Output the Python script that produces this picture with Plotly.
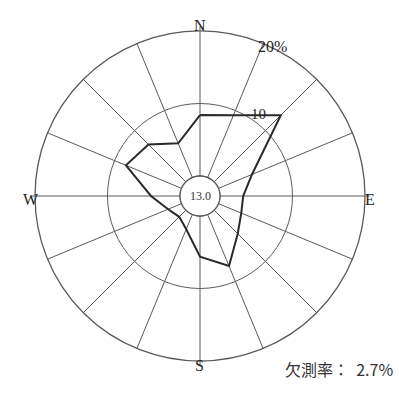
import plotly.graph_objects as go

# 16-point compass, clockwise from north
directions = ["N", "NNE", "NE", "ENE", "E", "ESE", "SE", "SSE",
              "S", "SSW", "SW", "WSW", "W", "WNW", "NW", "NNW"]
angles = [i * 22.5 for i in range(16)]
# wind direction frequency (%)
frequency = [8.4, 9.3, 13.0, 5.0, 3.2, 3.4, 4.6, 7.7,
             5.6, 2.2, 1.3, 2.0, 4.0, 8.3, 7.3, 5.1]
calm = 13.0
missing_rate = 2.7

ring_values = [10, 20]
cardinal_angles = [0, 90, 180, 270]
cardinal_labels = ["N", "E", "S", "W"]

GRID = "#5a5a5a"
LINE = "#2a2a2a"
TEXT = "#222222"
SERIF = "Liberation Serif, DejaVu Serif, serif"

domain = dict(x=[35 / 399, 365 / 399], y=[36 / 397, 366 / 397])
hole = 20 / 165

fig = go.Figure()

# frequency polygon
fig.add_trace(go.Scatterpolar(
    r=frequency + frequency[:1],
    theta=angles + angles[:1],
    mode="lines",
    line=dict(color=LINE, width=2),
    showlegend=False,
    hoverinfo="skip",
    subplot="polar",
))

# calm circle at the hole boundary
fig.add_trace(go.Scatterpolar(
    r=[0] * 73,
    theta=[i * 5 for i in range(73)],
    mode="lines",
    line=dict(color=GRID, width=1.1),
    showlegend=False,
    hoverinfo="skip",
    subplot="polar",
))

# layer carrying the short cardinal extensions
fig.add_trace(go.Scatterpolar(
    r=[None], theta=[0], mode="lines", showlegend=False,
    hoverinfo="skip", subplot="polar2",
))

fig.update_layout(
    width=399, height=397,
    margin=dict(l=0, r=0, t=0, b=0),
    paper_bgcolor="white",
    plot_bgcolor="white",
    polar=dict(
        domain=domain,
        hole=hole,
        bgcolor="rgba(0,0,0,0)",
        angularaxis=dict(
            rotation=90, direction="clockwise",
            tickmode="array", tickvals=angles,
            showticklabels=False, ticks="",
            showgrid=True, gridcolor=GRID, gridwidth=1.1,
            showline=True, linecolor=GRID, linewidth=1.3,
        ),
        radialaxis=dict(
            range=[0, 20],
            tickmode="array", tickvals=ring_values,
            showticklabels=False, ticks="",
            showgrid=True, gridcolor=GRID, gridwidth=1.1,
            showline=False,
        ),
    ),
    polar2=dict(
        domain=domain,
        hole=hole,
        bgcolor="rgba(0,0,0,0)",
        angularaxis=dict(
            rotation=90, direction="clockwise",
            tickmode="array", tickvals=cardinal_angles,
            showticklabels=False,
            ticks="outside", ticklen=4, tickcolor=GRID, tickwidth=1.1,
            showgrid=False, showline=False,
        ),
        radialaxis=dict(visible=False, range=[0, 20]),
    ),
)

# cardinal letters placed just outside the outer ring
cardinal_pos = [(200, 15), (377, 199), (199, 376), (21, 199)]
annotations = [
    dict(x=px / 399, y=1 - py / 397, text=lab,
         font=dict(family=SERIF, size=16, color=TEXT))
    for lab, (px, py) in zip(cardinal_labels, cardinal_pos)
]
annotations += [
    dict(x=200 / 399, y=1 - 196 / 397, text=f"{calm:.1f}",
         font=dict(family=SERIF, size=12, color="#333333")),
    dict(x=258 / 399, y=1 - 104 / 397, text=str(ring_values[0]),
         font=dict(family=SERIF, size=15, color=TEXT)),
    dict(x=289 / 399, y=1 - 36 / 397, text=f"{ring_values[1]}%",
         font=dict(family=SERIF, size=16, color=TEXT)),
    dict(x=395 / 399, y=1 - 383 / 397, xanchor="right",
         text=f"欠測率：  {missing_rate}%",
         font=dict(family="Noto Sans CJK JP", size=16, color="#333333")),
]
for a in annotations:
    a.update(xref="paper", yref="paper", showarrow=False)
fig.update_layout(annotations=annotations)

fig.write_html("out.html")
